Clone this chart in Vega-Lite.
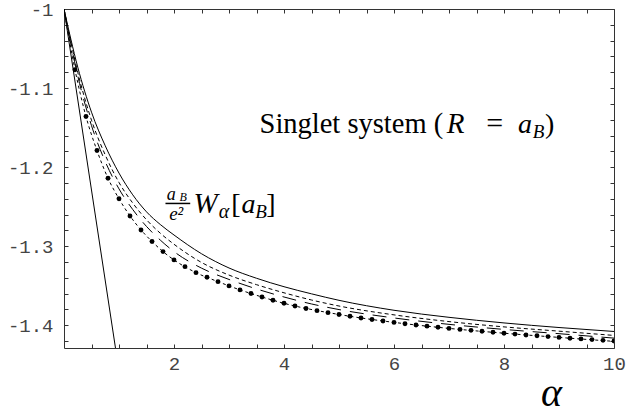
{
  "$schema": "https://vega.github.io/schema/vega-lite/v6.json",
  "width": 550,
  "height": 339,
  "autosize": "none",
  "padding": {"left": 64, "top": 9, "right": 12, "bottom": 66},
  "background": "white",
  "config": {"view": {"stroke": null}, "axis": {"grid": false}},
  "datasets": {
    "curves": [
      {"series": "A", "x": 0, "y": -1}, {"series": "A", "x": 0.25, "y": -1.0735}, {"series": "A", "x": 0.5, "y": -1.1305}, {"series": "A", "x": 0.75, "y": -1.173}, {"series": "A", "x": 1, "y": -1.2075}, {"series": "A", "x": 1.25, "y": -1.235}, {"series": "A", "x": 1.5, "y": -1.2565}, {"series": "A", "x": 1.75, "y": -1.2725}, {"series": "A", "x": 2, "y": -1.2858}, {"series": "A", "x": 2.5, "y": -1.3095}, {"series": "A", "x": 3, "y": -1.3275}, {"series": "A", "x": 3.5, "y": -1.3405}, {"series": "A", "x": 4, "y": -1.3512}, {"series": "A", "x": 4.5, "y": -1.3602}, {"series": "A", "x": 5, "y": -1.3684}, {"series": "A", "x": 6, "y": -1.381}, {"series": "A", "x": 7, "y": -1.3899}, {"series": "A", "x": 8, "y": -1.397}, {"series": "A", "x": 9, "y": -1.4028}, {"series": "A", "x": 10, "y": -1.4078},
      {"series": "B", "x": 0, "y": -1}, {"series": "B", "x": 0.25, "y": -1.08}, {"series": "B", "x": 0.5, "y": -1.1406}, {"series": "B", "x": 0.75, "y": -1.1846}, {"series": "B", "x": 1, "y": -1.2194}, {"series": "B", "x": 1.25, "y": -1.2454}, {"series": "B", "x": 1.5, "y": -1.2665}, {"series": "B", "x": 1.75, "y": -1.2835}, {"series": "B", "x": 2, "y": -1.2975}, {"series": "B", "x": 2.5, "y": -1.3205}, {"series": "B", "x": 3, "y": -1.3365}, {"series": "B", "x": 3.5, "y": -1.3486}, {"series": "B", "x": 4, "y": -1.3589}, {"series": "B", "x": 4.5, "y": -1.368}, {"series": "B", "x": 5, "y": -1.3756}, {"series": "B", "x": 6, "y": -1.3868}, {"series": "B", "x": 7, "y": -1.3953}, {"series": "B", "x": 8, "y": -1.402}, {"series": "B", "x": 9, "y": -1.4074}, {"series": "B", "x": 10, "y": -1.4128},
      {"series": "C", "x": 0, "y": -1}, {"series": "C", "x": 0.25, "y": -1.0846}, {"series": "C", "x": 0.5, "y": -1.1475}, {"series": "C", "x": 0.75, "y": -1.193}, {"series": "C", "x": 1, "y": -1.2275}, {"series": "C", "x": 1.25, "y": -1.2536}, {"series": "C", "x": 1.5, "y": -1.275}, {"series": "C", "x": 1.75, "y": -1.2922}, {"series": "C", "x": 2, "y": -1.3068}, {"series": "C", "x": 2.5, "y": -1.3277}, {"series": "C", "x": 3, "y": -1.342}, {"series": "C", "x": 3.5, "y": -1.354}, {"series": "C", "x": 4, "y": -1.3642}, {"series": "C", "x": 4.5, "y": -1.373}, {"series": "C", "x": 5, "y": -1.3801}, {"series": "C", "x": 6, "y": -1.3907}, {"series": "C", "x": 7, "y": -1.3988}, {"series": "C", "x": 8, "y": -1.4052}, {"series": "C", "x": 9, "y": -1.4106}, {"series": "C", "x": 10, "y": -1.4162},
      {"series": "D", "x": 0, "y": -1}, {"series": "D", "x": 0.2, "y": -1.0768}, {"series": "D", "x": 0.4, "y": -1.136}, {"series": "D", "x": 0.6, "y": -1.179}, {"series": "D", "x": 0.8, "y": -1.214}, {"series": "D", "x": 1, "y": -1.24}, {"series": "D", "x": 1.2, "y": -1.2617}, {"series": "D", "x": 1.4, "y": -1.2794}, {"series": "D", "x": 1.6, "y": -1.294}, {"series": "D", "x": 1.8, "y": -1.3068}, {"series": "D", "x": 2, "y": -1.3173}, {"series": "D", "x": 2.4, "y": -1.3334}, {"series": "D", "x": 2.8, "y": -1.3448}, {"series": "D", "x": 3.2, "y": -1.3552}, {"series": "D", "x": 3.6, "y": -1.3642}, {"series": "D", "x": 4, "y": -1.3722}, {"series": "D", "x": 5, "y": -1.3863}, {"series": "D", "x": 6, "y": -1.3963}, {"series": "D", "x": 7, "y": -1.4039}, {"series": "D", "x": 8, "y": -1.41}, {"series": "D", "x": 9, "y": -1.4153}, {"series": "D", "x": 10, "y": -1.4203},
      {"series": "F", "x": 0, "y": -1}, {"series": "F", "x": 1, "y": -1.458}
    ],
    "dots": [
      {"x": 0.2, "y": -1.0768}, {"x": 0.4, "y": -1.136}, {"x": 0.6, "y": -1.179}, {"x": 0.8, "y": -1.214}, {"x": 1.0, "y": -1.24}, {"x": 1.2, "y": -1.2617}, {"x": 1.4, "y": -1.2794}, {"x": 1.6, "y": -1.294}, {"x": 1.8, "y": -1.3068}, {"x": 2.0, "y": -1.3173},
      {"x": 2.2, "y": -1.3258}, {"x": 2.4, "y": -1.3334}, {"x": 2.6, "y": -1.3392}, {"x": 2.8, "y": -1.3448}, {"x": 3.0, "y": -1.3502}, {"x": 3.2, "y": -1.3552}, {"x": 3.4, "y": -1.3598}, {"x": 3.6, "y": -1.3642}, {"x": 3.8, "y": -1.3684}, {"x": 4.0, "y": -1.3722},
      {"x": 4.2, "y": -1.3756}, {"x": 4.4, "y": -1.3787}, {"x": 4.6, "y": -1.3815}, {"x": 4.8, "y": -1.384}, {"x": 5.0, "y": -1.3863}, {"x": 5.2, "y": -1.3886}, {"x": 5.4, "y": -1.3907}, {"x": 5.6, "y": -1.3927}, {"x": 5.8, "y": -1.3946}, {"x": 6.0, "y": -1.3963},
      {"x": 6.2, "y": -1.398}, {"x": 6.4, "y": -1.3996}, {"x": 6.6, "y": -1.4011}, {"x": 6.8, "y": -1.4025}, {"x": 7.0, "y": -1.4039}, {"x": 7.2, "y": -1.4052}, {"x": 7.4, "y": -1.4064}, {"x": 7.6, "y": -1.4076}, {"x": 7.8, "y": -1.4088}, {"x": 8.0, "y": -1.41},
      {"x": 8.2, "y": -1.4111}, {"x": 8.4, "y": -1.4122}, {"x": 8.6, "y": -1.4133}, {"x": 8.8, "y": -1.4143}, {"x": 9.0, "y": -1.4153}, {"x": 9.2, "y": -1.4163}, {"x": 9.4, "y": -1.4172}, {"x": 9.6, "y": -1.4181}, {"x": 9.8, "y": -1.419}, {"x": 10.0, "y": -1.4199}
    ],
    "one": [{}]
  },
  "resolve": {"axis": {"x": "independent", "y": "independent"}},
  "layer": [
    {
      "data": {"name": "curves"},
      "transform": [{"filter": "datum.series == 'A'"}],
      "mark": {"type": "line", "color": "#000", "strokeWidth": 1, "interpolate": "monotone", "clip": true},
      "encoding": {
        "x": {"field": "x", "type": "quantitative",
          "scale": {"domain": [0, 10], "nice": false, "zero": false},
          "axis": {"orient": "bottom", "values": [0.5,1,1.5,2,2.5,3,3.5,4,4.5,5,5.5,6,6.5,7,7.5,8,8.5,9,9.5,10],
            "labelExpr": "datum.value % 2 == 0 ? '' + datum.value : ''",
            "tickSize": -4, "labelPadding": 10, "labelFlush": false, "labelOverlap": false, "labelBound": false,
            "labelFont": "Liberation Mono", "labelFontSize": 19, "labelColor": "#444",
            "domainColor": "#333", "tickColor": "#333", "domainWidth": 1, "tickWidth": 1,
            "title": "α", "titleFont": "Liberation Serif", "titleFontStyle": "italic", "titleFontWeight": "normal",
            "titleFontSize": 40, "titleColor": "#000", "titleX": 487, "titleY": 57, "titleAlign": "center", "titleBaseline": "alphabetic"}},
        "y": {"field": "y", "type": "quantitative",
          "scale": {"domain": [-1.4287, -1], "nice": false, "zero": false},
          "axis": {"orient": "left", "values": [-1.42,-1.4,-1.38,-1.36,-1.34,-1.32,-1.3,-1.28,-1.26,-1.24,-1.22,-1.2,-1.18,-1.16,-1.14,-1.12,-1.1,-1.08,-1.06,-1.04,-1.02,-1],
            "labelExpr": "abs(datum.value*10 - round(datum.value*10)) < 0.001 ? (datum.value == -1 ? '-1' : '-' + format(abs(datum.value), '.1f')) : ''",
            "tickSize": -4, "labelPadding": 15, "labelFlush": false, "labelOverlap": false, "labelBound": false,
            "labelFont": "Liberation Mono", "labelFontSize": 19, "labelColor": "#444",
            "domainColor": "#333", "tickColor": "#333", "domainWidth": 1, "tickWidth": 1, "title": null}}
      }
    },
    {
      "data": {"name": "curves"},
      "transform": [{"filter": "datum.series == 'B'"}],
      "mark": {"type": "line", "color": "#000", "strokeWidth": 1, "strokeDash": [4, 3], "interpolate": "monotone", "clip": true},
      "encoding": {
        "x": {"field": "x", "type": "quantitative",
          "axis": {"orient": "top", "values": [0.5,1,1.5,2,2.5,3,3.5,4,4.5,5,5.5,6,6.5,7,7.5,8,8.5,9,9.5,10],
            "labels": false, "tickSize": -4, "domainColor": "#333", "tickColor": "#333", "title": null}},
        "y": {"field": "y", "type": "quantitative",
          "axis": {"orient": "right", "values": [-1.42,-1.4,-1.38,-1.36,-1.34,-1.32,-1.3,-1.28,-1.26,-1.24,-1.22,-1.2,-1.18,-1.16,-1.14,-1.12,-1.1,-1.08,-1.06,-1.04,-1.02,-1],
            "labels": false, "tickSize": -4, "domainColor": "#333", "tickColor": "#333", "title": null}}
      }
    },
    {
      "data": {"name": "curves"},
      "transform": [{"filter": "datum.series == 'C'"}],
      "mark": {"type": "line", "color": "#000", "strokeWidth": 1, "strokeDash": [14, 9], "interpolate": "monotone", "clip": true},
      "encoding": {
        "x": {"field": "x", "type": "quantitative", "axis": null},
        "y": {"field": "y", "type": "quantitative", "axis": null}
      }
    },
    {
      "data": {"name": "curves"},
      "transform": [{"filter": "datum.series == 'D'"}],
      "mark": {"type": "line", "color": "#000", "strokeWidth": 1, "strokeDash": [3, 3], "interpolate": "monotone", "clip": true},
      "encoding": {
        "x": {"field": "x", "type": "quantitative", "axis": null},
        "y": {"field": "y", "type": "quantitative", "axis": null}
      }
    },
    {
      "data": {"name": "curves"},
      "transform": [{"filter": "datum.series == 'F'"}],
      "mark": {"type": "line", "color": "#000", "strokeWidth": 1, "clip": true},
      "encoding": {
        "x": {"field": "x", "type": "quantitative", "axis": null},
        "y": {"field": "y", "type": "quantitative", "axis": null}
      }
    },
    {
      "data": {"name": "dots"},
      "mark": {"type": "point", "filled": true, "color": "#000", "size": 24, "opacity": 1, "clip": true},
      "encoding": {
        "x": {"field": "x", "type": "quantitative", "axis": null},
        "y": {"field": "y", "type": "quantitative", "axis": null}
      }
    },
    {"data": {"name": "one"}, "mark": {"type": "text", "text": "Singlet system (", "font": "Liberation Serif", "fontSize": 28.5, "align": "left", "baseline": "alphabetic", "color": "#000"},
     "encoding": {"x": {"datum": 3.555, "type": "quantitative", "axis": null}, "y": {"datum": -1.1568, "type": "quantitative", "axis": null}}},
    {"data": {"name": "one"}, "mark": {"type": "text", "text": "R", "font": "Liberation Serif", "fontStyle": "italic", "fontSize": 29, "align": "center", "baseline": "alphabetic", "color": "#000"},
     "encoding": {"x": {"datum": 7.12, "type": "quantitative", "axis": null}, "y": {"datum": -1.1568, "type": "quantitative", "axis": null}}},
    {"data": {"name": "one"}, "mark": {"type": "text", "text": "=", "font": "Liberation Serif", "fontSize": 30, "align": "center", "baseline": "alphabetic", "color": "#000"},
     "encoding": {"x": {"datum": 7.83, "type": "quantitative", "axis": null}, "y": {"datum": -1.1568, "type": "quantitative", "axis": null}}},
    {"data": {"name": "one"}, "mark": {"type": "text", "text": "a", "font": "Liberation Serif", "fontStyle": "italic", "fontSize": 28, "align": "center", "baseline": "alphabetic", "color": "#000"},
     "encoding": {"x": {"datum": 8.38, "type": "quantitative", "axis": null}, "y": {"datum": -1.1568, "type": "quantitative", "axis": null}}},
    {"data": {"name": "one"}, "mark": {"type": "text", "text": "B", "font": "Liberation Serif", "fontStyle": "italic", "fontSize": 19, "align": "center", "baseline": "alphabetic", "color": "#000"},
     "encoding": {"x": {"datum": 8.63, "type": "quantitative", "axis": null}, "y": {"datum": -1.1634, "type": "quantitative", "axis": null}}},
    {"data": {"name": "one"}, "mark": {"type": "text", "text": ")", "font": "Liberation Serif", "fontSize": 28, "align": "center", "baseline": "alphabetic", "color": "#000"},
     "encoding": {"x": {"datum": 8.83, "type": "quantitative", "axis": null}, "y": {"datum": -1.1568, "type": "quantitative", "axis": null}}},
    {"data": {"name": "one"}, "mark": {"type": "text", "text": "a", "font": "Liberation Serif", "fontStyle": "italic", "fontSize": 18, "align": "center", "baseline": "alphabetic", "color": "#000"},
     "encoding": {"x": {"datum": 1.95, "type": "quantitative", "axis": null}, "y": {"datum": -1.2415, "type": "quantitative", "axis": null}}},
    {"data": {"name": "one"}, "mark": {"type": "text", "text": "B", "font": "Liberation Serif", "fontStyle": "italic", "fontSize": 12, "align": "center", "baseline": "alphabetic", "color": "#000"},
     "encoding": {"x": {"datum": 2.165, "type": "quantitative", "axis": null}, "y": {"datum": -1.2432, "type": "quantitative", "axis": null}}},
    {"data": {"name": "one"}, "mark": {"type": "rule", "color": "#000", "strokeWidth": 1.5},
     "encoding": {"x": {"datum": 1.845, "type": "quantitative", "axis": null}, "x2": {"datum": 2.295}, "y": {"datum": -1.2459, "type": "quantitative", "axis": null}}},
    {"data": {"name": "one"}, "mark": {"type": "text", "text": "e²", "font": "Liberation Serif", "fontStyle": "italic", "fontSize": 19, "align": "center", "baseline": "alphabetic", "color": "#000"},
     "encoding": {"x": {"datum": 2.04, "type": "quantitative", "axis": null}, "y": {"datum": -1.2665, "type": "quantitative", "axis": null}}},
    {"data": {"name": "one"}, "mark": {"type": "text", "text": "W", "font": "Liberation Serif", "fontStyle": "italic", "fontSize": 29, "align": "center", "baseline": "alphabetic", "color": "#000"},
     "encoding": {"x": {"datum": 2.573, "type": "quantitative", "axis": null}, "y": {"datum": -1.258, "type": "quantitative", "axis": null}}},
    {"data": {"name": "one"}, "mark": {"type": "text", "text": "α", "font": "Liberation Serif", "fontStyle": "italic", "fontSize": 20, "align": "center", "baseline": "alphabetic", "color": "#000"},
     "encoding": {"x": {"datum": 2.909, "type": "quantitative", "axis": null}, "y": {"datum": -1.2639, "type": "quantitative", "axis": null}}},
    {"data": {"name": "one"}, "mark": {"type": "text", "text": "[", "font": "Liberation Serif", "fontSize": 28, "align": "center", "baseline": "alphabetic", "color": "#000"},
     "encoding": {"x": {"datum": 3.127, "type": "quantitative", "axis": null}, "y": {"datum": -1.258, "type": "quantitative", "axis": null}}},
    {"data": {"name": "one"}, "mark": {"type": "text", "text": "a", "font": "Liberation Serif", "fontStyle": "italic", "fontSize": 28, "align": "center", "baseline": "alphabetic", "color": "#000"},
     "encoding": {"x": {"datum": 3.355, "type": "quantitative", "axis": null}, "y": {"datum": -1.258, "type": "quantitative", "axis": null}}},
    {"data": {"name": "one"}, "mark": {"type": "text", "text": "B", "font": "Liberation Serif", "fontStyle": "italic", "fontSize": 19, "align": "center", "baseline": "alphabetic", "color": "#000"},
     "encoding": {"x": {"datum": 3.582, "type": "quantitative", "axis": null}, "y": {"datum": -1.2639, "type": "quantitative", "axis": null}}},
    {"data": {"name": "one"}, "mark": {"type": "text", "text": "]", "font": "Liberation Serif", "fontSize": 28, "align": "center", "baseline": "alphabetic", "color": "#000"},
     "encoding": {"x": {"datum": 3.764, "type": "quantitative", "axis": null}, "y": {"datum": -1.258, "type": "quantitative", "axis": null}}}
  ]
}
